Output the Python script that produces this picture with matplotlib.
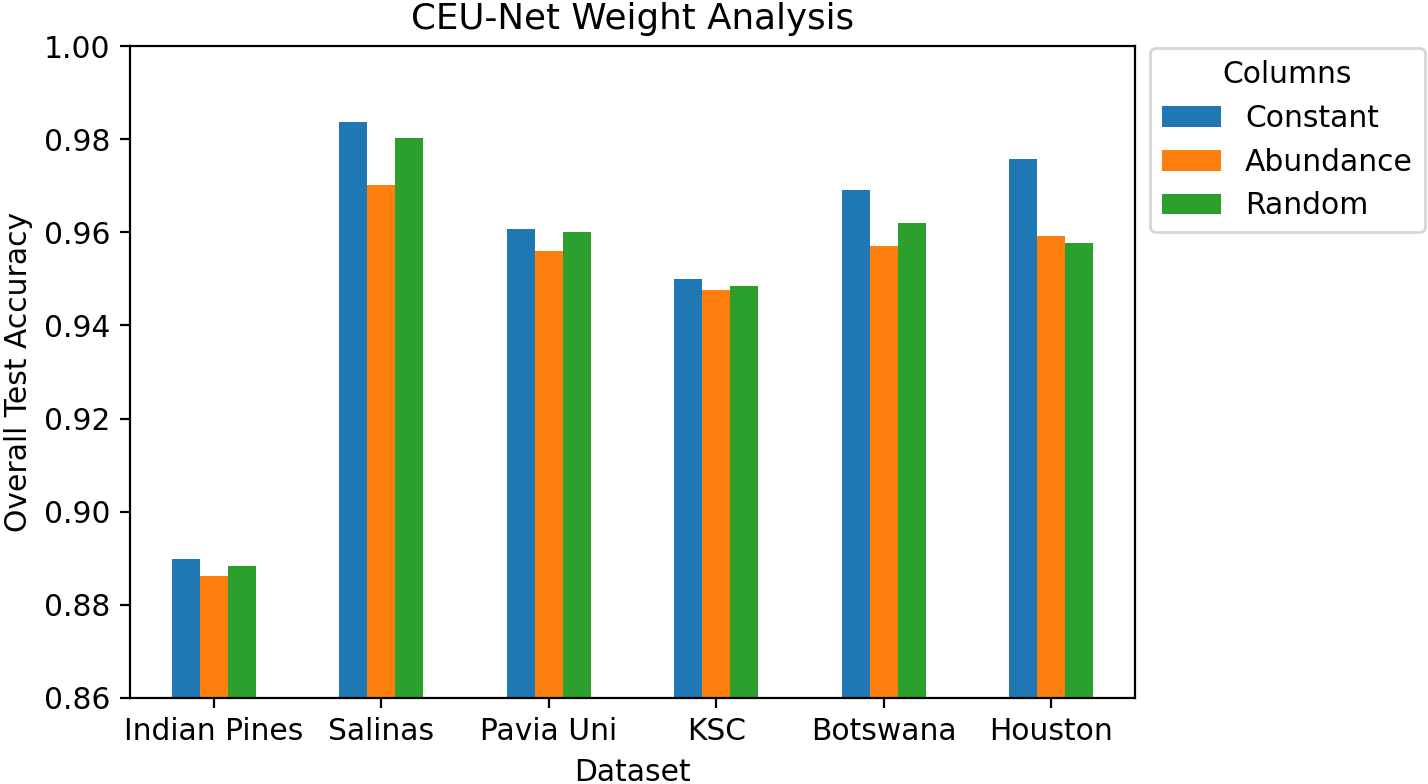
import matplotlib
matplotlib.use("Agg")
import matplotlib.pyplot as plt
import numpy as np

datasets = ["Indian Pines", "Salinas", "Pavia Uni", "KSC", "Botswana", "Houston"]
constant = [0.8898, 0.9837, 0.9607, 0.9500, 0.9691, 0.9757]
abundance = [0.8862, 0.9702, 0.9560, 0.9476, 0.9571, 0.9592]
random_w = [0.8883, 0.9802, 0.9600, 0.9485, 0.9620, 0.9577]

series = [("Constant", constant, "#1f77b4"),
          ("Abundance", abundance, "#ff7f0e"),
          ("Random", random_w, "#2ca02c")]

plt.rcParams["font.size"] = 10.7

fig = plt.figure(figsize=(7.14, 3.92), dpi=200)
ax = fig.add_axes([0.0910, 0.1097, 0.7038, 0.8316])

x = np.arange(len(datasets))
w = 0.5 / 3
for i, (name, vals, col) in enumerate(series):
    ax.bar(x + (i - 1) * w, vals, w, color=col, label=name)

ax.set_xlim(-0.5, len(datasets) - 0.5)
ax.set_ylim(0.86, 1.00)
ax.set_yticks(np.arange(0.86, 1.001, 0.02))
ax.set_xticks(x)
ax.set_xticklabels(datasets, rotation=0)
ax.set_xlabel("Dataset")
ax.set_ylabel("Overall Test Accuracy")
ax.set_title("CEU-Net Weight Analysis")
ax.legend(title="Columns", loc="upper left", bbox_to_anchor=(1.015, 0.997),
          borderaxespad=0)

fig.savefig("out.png", dpi=200)
